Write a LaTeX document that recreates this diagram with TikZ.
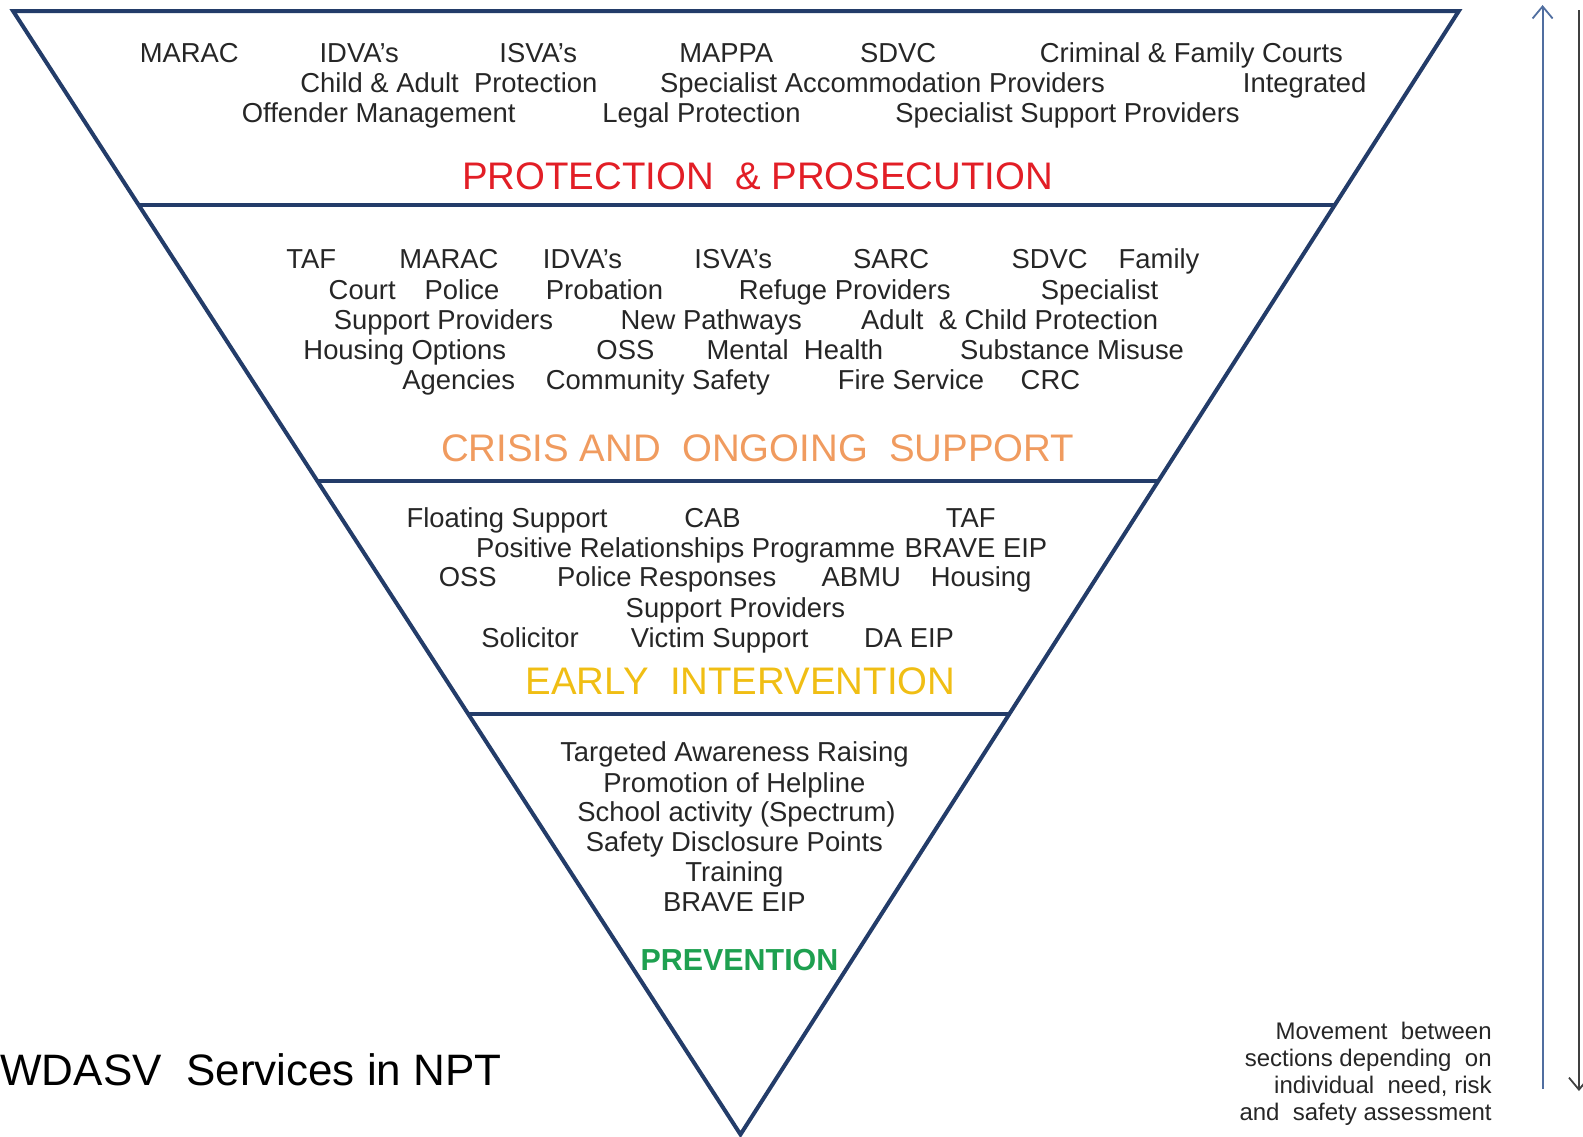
\documentclass[tikz,border=0pt]{standalone}
\usepackage{fontspec}
\setmainfont{Liberation Sans}
\usepackage{xcolor}
\definecolor{pyramidnavy}{RGB}{35, 60, 105}
\definecolor{titlered}{RGB}{226, 30, 38}
\definecolor{crisisorange}{RGB}{240, 155, 95}
\definecolor{earlyyellow}{RGB}{240, 190, 20}
\definecolor{preventgreen}{RGB}{30, 160, 80}
\definecolor{arrowblue}{RGB}{80, 110, 160}
\definecolor{bodygray}{RGB}{38, 38, 38}
\usepackage{tikz}
\usetikzlibrary{
    arrows.meta,
    positioning,
    calc
}
\tikzstyle{divider} = [
    draw=pyramidnavy,
    line width=2pt
]
\tikzstyle{item} = [
    anchor=base west,
    inner sep=0pt,
    text=bodygray,
    font=\fontsize{13.7}{16}\selectfont
]
\tikzstyle{line} = [
    anchor=base,
    inner sep=0pt,
    text=bodygray,
    font=\fontsize{13.7}{16}\selectfont
]
\tikzstyle{tier} = [
    anchor=base,
    inner sep=0pt,
    font=\fontsize{19.2}{22}\selectfont
]
\tikzstyle{movearrow} = [
    -{Straight Barb[length=6pt,width=10pt]},
    line width=0.9pt
]

\begin{document}
\begin{tikzpicture}[x=0.505pt,y=-0.505pt]
        \useasboundingbox (0,0) rectangle (1567,1125);

        % Pyramid outline
        \coordinate (tl) at (13,11);
        \coordinate (tr) at (1444,11);
        \coordinate (apex) at (733,1123);
        \draw[divider, line join=miter] (tl) -- (tr) -- (apex) -- cycle;

        % Dividers between sections
        \draw[divider] ($(tl)!0.1727!(apex)$) -- ($(tr)!0.1727!(apex)$);
        \draw[divider] ($(tl)!0.4182!(apex)$) -- ($(tr)!0.4182!(apex)$);
        \draw[divider] ($(tl)!0.6259!(apex)$) -- ($(tr)!0.6259!(apex)$);

        % Protection & prosecution
        \node[item] (pmarac) at (138,62) {MARAC};
        \node[item] (pidva) at (316,62) {IDVA’s};
        \node[item] (pisva) at (494,62) {ISVA’s};
        \node[item] (pmappa) at (672,62) {MAPPA};
        \node[item] (psdvc) at (851,62) {SDVC};
        \node[item] (pcourts) at (1029,62) {Criminal \& Family Courts};
        \node[item] (pchild) at (297,92) {Child \& Adult\ \ Protection};
        \node[item] (paccom) at (653,92) {Specialist Accommodation Providers};
        \node[item] (pinteg) at (1230,92) {Integrated};
        \node[item] (poffend) at (239,121) {Offender Management};
        \node[item] (plegal) at (596,121) {Legal Protection};
        \node[item] (psupport) at (886,121) {Specialist Support Providers};
        \node[tier, text=titlered] (ptitle) at (750,188) {PROTECTION\ \ \& PROSECUTION};

        % Crisis and ongoing support
        \node[item] (ctaf) at (283,266) {TAF};
        \node[item] (cmarac) at (395,266) {MARAC};
        \node[item] (cidva) at (537,266) {IDVA’s};
        \node[item] (cisva) at (687,266) {ISVA’s};
        \node[item] (csarc) at (844,266) {SARC};
        \node[item] (csdvc) at (1001,266) {SDVC};
        \node[item] (cfamily) at (1107,266) {Family};
        \node[item] (ccourt) at (325,296) {Court};
        \node[item] (cpolice) at (420,296) {Police};
        \node[item] (cprob) at (540,296) {Probation};
        \node[item] (crefuge) at (731,296) {Refuge Providers};
        \node[item] (cspec) at (1030,296) {Specialist};
        \node[item] (csupport) at (330,326) {Support Providers};
        \node[item] (cpath) at (614,326) {New Pathways};
        \node[item] (cadult) at (852,326) {Adult\ \ \& Child Protection};
        \node[item] (chousing) at (300,356) {Housing Options};
        \node[item] (coss) at (590,356) {OSS};
        \node[item] (cmental) at (699,356) {Mental\ \ Health};
        \node[item] (csubst) at (950,356) {Substance Misuse};
        \node[item] (cagency) at (398,386) {Agencies};
        \node[item] (ccomm) at (540,386) {Community Safety};
        \node[item] (cfire) at (829,386) {Fire Service};
        \node[item] (ccrc) at (1010,386) {CRC};
        \node[tier, text=crisisorange] (ctitle) at (750,457) {CRISIS AND\ \ ONGOING\ \ SUPPORT};

        % Early intervention
        \node[item] (efloat) at (402,522) {Floating Support};
        \node[item] (ecab) at (677,522) {CAB};
        \node[item] (etaf) at (936,522) {TAF};
        \node[item] (eposit) at (471,552) {Positive Relationships Programme};
        \node[item] (ebrave) at (895,552) {BRAVE EIP};
        \node[item] (eoss) at (434,581) {OSS};
        \node[item] (epolice) at (551,581) {Police Responses};
        \node[item] (eabmu) at (813,581) {ABMU};
        \node[item] (ehousing) at (921,581) {Housing};
        \node[item] (esupport) at (619,611) {Support Providers};
        \node[item] (esolic) at (476,641) {Solicitor};
        \node[item] (evictim) at (624,641) {Victim Support};
        \node[item] (edaeip) at (855,641) {DA EIP};
        \node[tier, text=earlyyellow] (etitle) at (733,687) {EARLY\ \ INTERVENTION};

        % Prevention
        \node[line] (vaware) at (727,754) {Targeted Awareness Raising};
        \node[line] (vhelp) at (727,784) {Promotion of Helpline};
        \node[line] (vschool) at (729,813) {School activity (Spectrum)};
        \node[line] (vsafety) at (727,843) {Safety Disclosure Points};
        \node[line] (vtrain) at (727,873) {Training};
        \node[line] (vbrave) at (727,902) {BRAVE EIP};
        \node[tier, text=preventgreen, font=\fontsize{15.2}{18}\selectfont\bfseries] (vtitle) at (732,961) {PREVENTION};

        % Caption
        \node[anchor=base west, inner sep=0pt, font=\fontsize{22}{26}\selectfont] (caption) at (0,1075) {WDASV\ \ Services\ in NPT};

        % Movement note and arrows
        \node[anchor=north east, inner sep=0pt, align=right, text=bodygray,
            font=\fontsize{12}{13.6}\selectfont] (movenote) at (1477,1011)
            {Movement\ \ between\\sections depending\ \ on\\individual\ \ need, risk\\and\ \ safety assessment};
        \coordinate (upfoot) at (1527,1078);
        \coordinate (uptip) at (1527,5);
        \coordinate (downtop) at (1563,10);
        \coordinate (downtip) at (1563,1080);
        \draw[movearrow, arrowblue] (upfoot) -- (uptip);
        \draw[movearrow, black!75] (downtop) -- (downtip);
    \end{tikzpicture}
\end{document}
